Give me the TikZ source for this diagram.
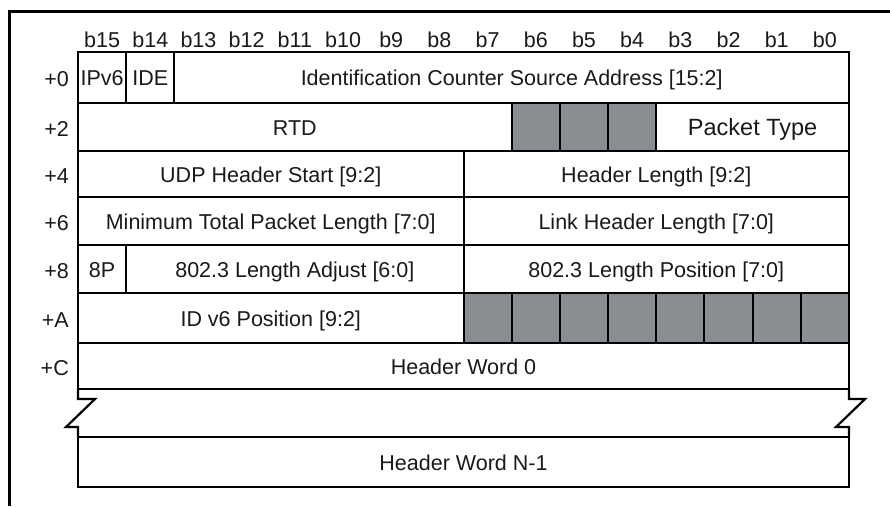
\documentclass[tikz,border=0pt]{standalone}
\usepackage{fontspec}
\setmainfont{Liberation Sans}
\definecolor{cellgray}{RGB}{138,142,145}
\definecolor{txt}{RGB}{25,25,25}
\newcommand{\fld}[7]{%
  \pgfmathsetmacro\xa{78+#2*48.1875}%
  \pgfmathsetmacro\xb{78+#3*48.1875}%
  \pgfmathsetmacro\ww{\xb-\xa}%
  \pgfmathsetmacro\hh{#5-#4}%
  \pgfmathsetmacro\cx{(\xa+\xb)/2}%
  \pgfmathsetmacro\cy{(#4+#5)/2}%
  \node[fieldbox,#6,minimum width=\ww pt,minimum height=\hh pt] (#1) at (\cx,\cy) {#7};}
\begin{document}
\begin{tikzpicture}[x=1pt,y=-1pt,
  fieldbox/.style={draw=black,line width=2pt,inner sep=0pt,outer sep=0pt,rectangle,
     font=\fontsize{21.5}{25}\selectfont,text=txt,text height=19pt,text depth=3pt},
  grayed/.style={fill=cellgray},
  bitlab/.style={font=\fontsize{21.5}{25}\selectfont,text=txt,anchor=base,inner sep=0pt},
  offlab/.style={font=\fontsize{21.5}{25}\selectfont,text=txt,anchor=east,inner sep=0pt,text height=15pt,text depth=0pt},
  bigger/.style={font=\fontsize{23.5}{27}\selectfont}]
\useasboundingbox (0,0) rectangle (890,506);
% frame
\draw[line width=3pt] (9,506) -- (9,11) -- (890,11);
% bit labels
\foreach \i [evaluate=\i as \b using int(15-\i)] in {0,...,15}{
  \node[bitlab] (bit\b) at ({78+\i*48.1875+24.09},47) {b\b};
}
% row 0
\fld{ipv6}{0}{1}{52}{103}{}{IPv6}
\fld{ide}{1}{2}{52}{103}{}{IDE}
\fld{icsa}{2}{16}{52}{103}{}{Identification Counter Source Address [15:2]}
% row 2
\fld{rtd}{0}{9}{103}{151}{}{RTD}
\fld{g26}{9}{10}{103}{151}{grayed}{}
\fld{g25}{10}{11}{103}{151}{grayed}{}
\fld{g24}{11}{12}{103}{151}{grayed}{}
\fld{ptype}{12}{16}{103}{151}{bigger}{Packet Type}
% row 4
\fld{udp}{0}{8}{151}{197}{}{UDP Header Start [9:2]}
\fld{hlen}{8}{16}{151}{197}{}{Header Length [9:2]}
% row 6
\fld{mtpl}{0}{8}{197}{245}{}{Minimum Total Packet Length [7:0]}
\fld{lhl}{8}{16}{197}{245}{}{Link Header Length [7:0]}
% row 8
\fld{ep}{0}{1}{245}{293}{}{8P}
\fld{lenadj}{1}{8}{245}{293}{}{802.3 Length Adjust [6:0]}
\fld{lenpos}{8}{16}{245}{293}{}{802.3 Length Position [7:0]}
% row A
\fld{idv6}{0}{8}{293}{343}{}{ID v6 Position [9:2]}
\foreach \c in {8,...,15}{
  \pgfmathtruncatemacro\cn{\c+1}
  \fld{gA\c}{\c}{\cn}{293}{343}{grayed}{}
}
% row C
\fld{hw0}{0}{16}{343}{389}{}{Header Word 0}
% last row
\fld{hwn}{0}{16}{437}{487}{}{Header Word N-1}
% offsets
\node[offlab] (o0) at (69,79) {+0};
\node[offlab] (o2) at (69,128.5) {+2};
\node[offlab] (o4) at (69,175.5) {+4};
\node[offlab] (o6) at (69,222.5) {+6};
\node[offlab] (o8) at (69,270.5) {+8};
\node[offlab] (oA) at (69,319.5) {+A};
\node[offlab] (oC) at (69,367.5) {+C};
% break marks
\draw[line width=2.2pt,line join=miter] (hw0.south west) -- ++(0,10) -- ++(17,0) -- ++(-29,28) -- ++(12,0) -- (hwn.north west);
\draw[line width=2.2pt,line join=miter] (hw0.south east) -- ++(0,10) -- ++(16,0) -- ++(-29,28) -- ++(13,0) -- (hwn.north east);
\end{tikzpicture}
\end{document}
